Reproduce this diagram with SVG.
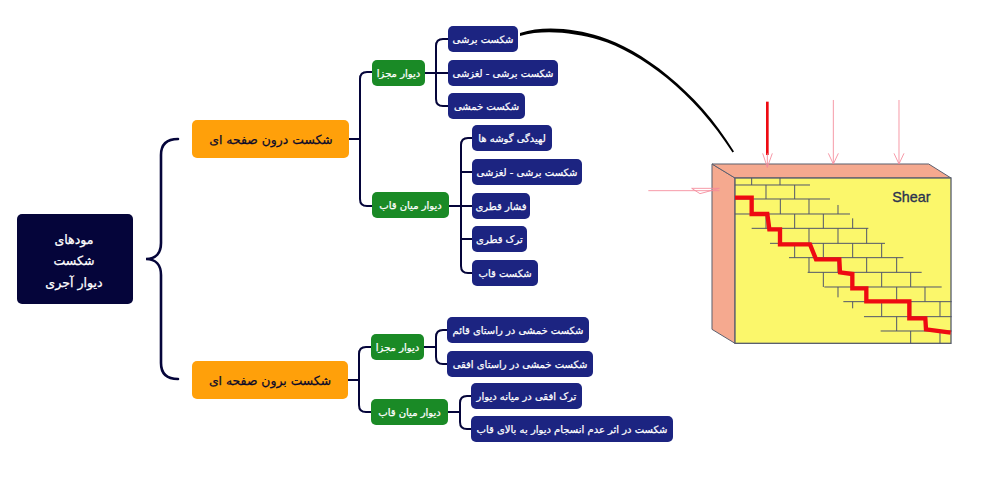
<svg xmlns="http://www.w3.org/2000/svg" width="1000" height="483" viewBox="0 0 1000 483">
<style>
text{font-family:"DejaVu Sans","Noto Sans",sans-serif;text-anchor:middle;direction:rtl}
.n{rx:5px;ry:5px}
.blue rect{fill:#1c2481}.blue text{fill:#fff;stroke:#fff;stroke-width:.25px;font-size:10px}
.green rect{fill:#1a8a26}.green text{fill:#fff;stroke:#fff;stroke-width:.25px;font-size:10px}
.orange rect{fill:#ffa00a}.orange text{fill:#0a0a2a;stroke:#0a0a2a;stroke-width:.25px;font-size:12.4px}
.root rect{fill:#05053a}.root text{fill:#fff;stroke:#fff;stroke-width:.25px;font-size:12.6px}
.c{fill:none;stroke:#05053a;stroke-width:2;stroke-linecap:round}
.b{stroke:#50556a;stroke-width:3;fill:none}
.p{stroke:#f58a9a;stroke-width:2.6;fill:none}
</style>
<rect width="1000" height="483" fill="#fff"/>
<g id="connectors">
<path class="c" style="stroke-width:2.6" d="M178 139C166 139 161 145 161 155V243C161 253 156 259 146 259C156 259 161 265 161 275V363C161 373 166 379 178 379"/>
<path class="c" d="M349 139H360M372 72H367Q360 72 360 79V199Q360 206 367 206H372"/>
<path class="c" d="M425 73H448M448 39H443Q436 39 436 46V99Q436 106 443 106H448"/>
<path class="c" d="M449 206H472M472 138H468Q461 138 461 145V266Q461 273 468 273H472M461 172H472M461 239H472"/>
<path class="c" d="M348 380H359M371 347H366Q359 347 359 354V405Q359 412 366 412H371"/>
<path class="c" d="M424 347H436M447 330H443Q436 330 436 337V357Q436 364 443 364H447"/>
<path class="c" d="M448 412H460M471 396H467Q460 396 460 403V422Q460 429 467 429H471"/>
<path d="M520 33C545 25 575 29 600 36.500C640 49 697 90 734 151.500L732.500 152.500C694 92 640 52 599.500 40C575 33 545 29 520 36Z" fill="#000"/>
</g>
<g id="root" class="root"><rect class="n" x="17" y="214" width="116" height="90"/><text x="74" y="244">مودهای</text><text x="74" y="265">شکست</text><text x="74" y="287">دیوار آجری</text></g>
<g id="in-plane" class="orange"><rect class="n" x="192" y="120" width="157" height="38"/><text x="271" y="144">شکست درون صفحه ای</text></g>
<g id="out-plane" class="orange"><rect class="n" x="192" y="361" width="156" height="38"/><text x="270" y="385">شکست برون صفحه ای</text></g>
<g id="g1" class="green"><rect class="n" x="372" y="60" width="53" height="26"/><text x="398.500" y="77">دیوار مجزا</text></g>
<g id="g2" class="green"><rect class="n" x="372" y="192" width="77" height="26"/><text x="410.500" y="209">دیوار میان قاب</text></g>
<g id="g3" class="green"><rect class="n" x="371" y="334" width="53" height="26"/><text x="397.500" y="351">دیوار مجزا</text></g>
<g id="g4" class="green"><rect class="n" x="371" y="399" width="77" height="26"/><text x="409.500" y="416">دیوار میان قاب</text></g>
<g id="b1" class="blue"><rect class="n" x="448" y="26" width="70" height="26"/><text x="483" y="43">شکست برشی</text></g>
<g id="b2" class="blue"><rect class="n" x="448" y="60" width="110" height="26"/><text x="503" y="77">شکست برشی - لغزشی</text></g>
<g id="b3" class="blue"><rect class="n" x="448" y="93" width="77" height="26"/><text x="486.500" y="110">شکست خمشی</text></g>
<g id="b4" class="blue"><rect class="n" x="472" y="125" width="80" height="26"/><text x="512" y="142">لهیدگی گوشه ها</text></g>
<g id="b5" class="blue"><rect class="n" x="472" y="159" width="110" height="26"/><text x="527" y="176">شکست برشی - لغزشی</text></g>
<g id="b6" class="blue"><rect class="n" x="472" y="193" width="58" height="26"/><text x="501" y="210">فشار قطری</text></g>
<g id="b7" class="blue"><rect class="n" x="472" y="226" width="55" height="26"/><text x="499.500" y="243">ترک قطری</text></g>
<g id="b8" class="blue"><rect class="n" x="472" y="260" width="66" height="26"/><text x="505" y="277">شکست قاب</text></g>
<g id="b9" class="blue"><rect class="n" x="447" y="317" width="142" height="26"/><text x="518" y="334">شکست خمشی در راستای قائم</text></g>
<g id="b10" class="blue"><rect class="n" x="447" y="351" width="146" height="26"/><text x="520" y="368">شکست خمشی در راستای افقی</text></g>
<g id="b11" class="blue"><rect class="n" x="471" y="383" width="111" height="26"/><text x="526.500" y="400">ترک افقی در میانه دیوار</text></g>
<g id="b12" class="blue"><rect class="n" x="471" y="416" width="202" height="26"/><text x="572" y="433">شکست در اثر عدم انسجام دیوار به بالای قاب</text></g>
<g id="wall" transform="translate(640 90) scale(.33333)">
<path d="M216 222L285 264V760L216 718Z" fill="#f5a98f" stroke="#5a5f6e" stroke-width="3"/>
<path d="M216 222H866L933 264H285Z" fill="#f5a98f" stroke="#5a5f6e" stroke-width="3"/>
<rect x="285" y="264" width="648" height="496" fill="#fbf76b" stroke="#5a5f6e" stroke-width="4"/>
<path class="b" d="M285 285H510M285 327H570M285 372H630M335 415H685M390 460H735M447 503H790M503 547H845M553 591H905M610 635H935M672 680H935M722 723H935"/>
<path class="b" d="M335 264V285M420 264V285M378 285V327M464 285V327M421 327V372M507 327V372M594 345V372M378 372V415M464 372V415M550 372V415M638 385V415M421 415V460M507 415V460M594 415V460M680 415V460M464 460V503M550 460V503M638 460V503M725 460V503M507 503V547M594 503V547M680 503V547M770 503V547M550 547V591M638 547V591M725 547V591M812 547V591M594 591V622M680 591V635M770 591V635M855 591V635M638 635V655M725 635V680M812 635V680M900 635V680M770 680V723M855 680V723M812 723V760M900 723V760"/>
<path d="M285 323H335V372H382L388 418H420V463H510L528 508H598L600 547L637 552V595H679V634H808V685H856L858 718L932 728" fill="none" stroke="#ee0a12" stroke-width="13"/>
<path d="M382 35V195" stroke="#ee0a12" stroke-width="8" fill="none"/>
<path class="p" d="M382 190V232M368 190L382 232L397 190"/>
<path class="p" d="M580 30V222M565 190L580 222L595 190"/>
<path class="p" d="M777 30V222M762 190L777 222L792 190"/>
<path class="p" d="M25 302H238M155 295L238 295L180 311L155 295"/>
<text x="814" y="336" style="font-size:43px;direction:ltr;fill:#2b3350;stroke:#2b3350;stroke-width:1px;font-family:'Liberation Sans',sans-serif">Shear</text>
</g>
</svg>
